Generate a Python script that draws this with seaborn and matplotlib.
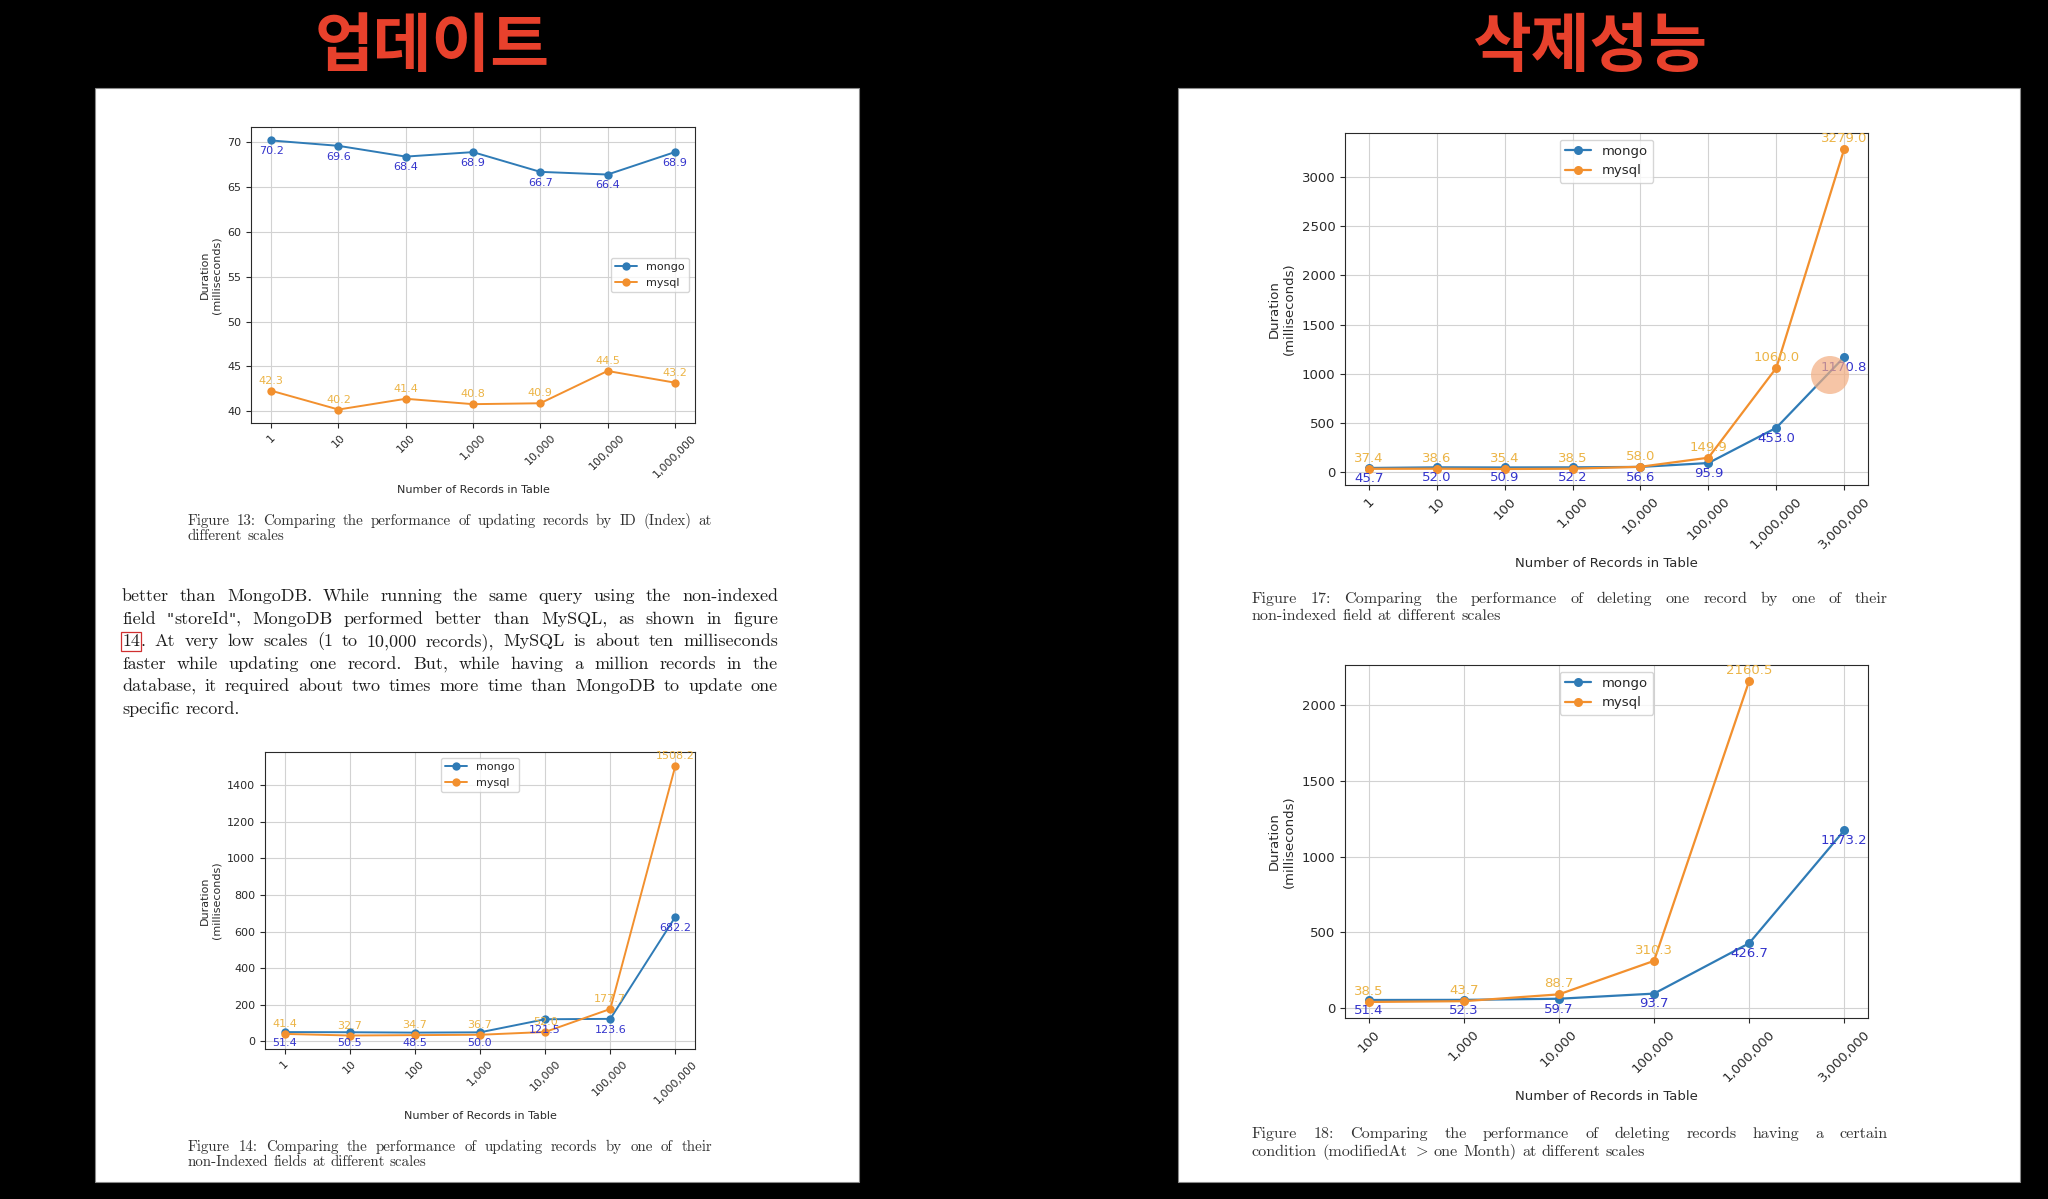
import matplotlib
matplotlib.use("Agg")
import matplotlib.pyplot as plt
import seaborn as sns
from matplotlib.patches import Rectangle, Ellipse

# ---------------- data ----------------
records_upd = ["1", "10", "100", "1,000", "10,000", "100,000", "1,000,000"]
upd_idx_mongo = [70.2, 69.6, 68.4, 68.9, 66.7, 66.4, 68.9]
upd_idx_mysql = [42.3, 40.2, 41.4, 40.8, 40.9, 44.5, 43.2]

upd_nonidx_mongo = [51.4, 50.5, 48.5, 50.0, 121.5, 123.6, 682.2]
upd_nonidx_mysql = [41.4, 32.7, 34.7, 36.7, 52.0, 177.7, 1508.2]

records_del1 = ["1", "10", "100", "1,000", "10,000", "100,000", "1,000,000", "3,000,000"]
del1_mongo = [45.7, 52.0, 50.9, 52.2, 56.6, 95.9, 453.0, 1170.8]
del1_mysql = [37.4, 38.6, 35.4, 38.5, 58.0, 149.9, 1060.0, 3279.0]

records_del2 = ["100", "1,000", "10,000", "100,000", "1,000,000", "3,000,000"]
del2_mongo = [51.4, 52.3, 59.7, 93.7, 426.7, 1173.2]
del2_mysql = [38.5, 43.7, 88.7, 310.3, 2160.5]

series_names = ["mongo", "mysql"]
title_left = "업데이트"
title_right = "삭제성능"
xlabel = "Number of Records in Table"
ylabel = "Duration\n(milliseconds)"

paragraph = [
    "better than MongoDB. While running the same query using the non-indexed",
    'field "storeId", MongoDB performed better than MySQL, as shown in figure',
    "14. At very low scales (1 to 10,000 records), MySQL is about ten milliseconds",
    "faster while updating one record. But, while having a million records in the",
    "database, it required about two times more time than MongoDB to update one",
    "specific record.",
]
cap13 = ["Figure 13: Comparing the performance of updating records by ID (Index) at",
         "different scales"]
cap14 = ["Figure 14: Comparing the performance of updating records by one of their",
         "non-Indexed fields at different scales"]
cap17 = ["Figure 17: Comparing the performance of deleting one record by one of their",
         "non-indexed field at different scales"]
cap18 = ["Figure 18: Comparing the performance of deleting records having a certain",
         "condition (modifiedAt $>$ one Month) at different scales"]

# ---------------- style ----------------
sns.set_style("whitegrid", rc={
    "axes.edgecolor": "#2a2a2a",
    "axes.linewidth": 1.0,
    "grid.color": "#d2d2d2",
    "grid.linewidth": 1.0,
    "xtick.bottom": True,
    "ytick.left": True,
    "xtick.color": "#2a2a2a",
    "ytick.color": "#2a2a2a",
    "axes.labelcolor": "#2a2a2a",
})
plt.rcParams["font.family"] = ["DejaVu Sans"]
plt.rcParams["mathtext.fontset"] = "cm"

BLUE = "#2f7bb6"
ORANGE = "#f2902e"
BLUE_TXT = "#3434cc"
ORANGE_TXT = "#ecb446"

W, H = 2048, 1199
fig = plt.figure(figsize=(W / 100, H / 100), dpi=100, facecolor="black")


def rect(x0, y0, x1, y1):
    return [x0 / W, 1 - y1 / H, (x1 - x0) / W, (y1 - y0) / H]


# pages
for (x0, y0, x1, y1) in [(95, 88, 859, 1182), (1178, 88, 2020, 1182)]:
    fig.add_artist(Rectangle((x0 / W, 1 - y1 / H), (x1 - x0) / W, (y1 - y0) / H,
                             transform=fig.transFigure, facecolor="white",
                             edgecolor="#8a8a8a", lw=0.8, zorder=-5))

# titles
fig.text(432 / W, 1 - 47 / H, title_left, ha="center", va="center", fontsize=46,
         fontweight="black", color="#e8412c", family=["Noto Sans CJK KR"])
fig.text(1590 / W, 1 - 47 / H, title_right, ha="center", va="center", fontsize=46,
         fontweight="black", color="#e8412c", family=["Noto Sans CJK KR"])


def draw(ax, cats, mongo, mysql, fs, leg_loc, leg_fs, ms, lw):
    sns.lineplot(x=cats[:len(mongo)], y=mongo, ax=ax, color=BLUE, marker="o",
                 markersize=ms, markeredgewidth=0, lw=lw, sort=False, label=series_names[0])
    sns.lineplot(x=cats[:len(mysql)], y=mysql, ax=ax, color=ORANGE, marker="o",
                 markersize=ms, markeredgewidth=0, lw=lw, sort=False, label=series_names[1])
    for i, v in enumerate(mongo):
        ax.annotate(f"{v:.1f}", (i, v), textcoords="offset points", xytext=(0, -10),
                    ha="center", color=BLUE_TXT, fontsize=fs)
    for i, v in enumerate(mysql):
        ax.annotate(f"{v:.1f}", (i, v), textcoords="offset points", xytext=(0, 5),
                    ha="center", color=ORANGE_TXT, fontsize=fs)
    ax.tick_params(axis="x", rotation=45, labelsize=fs, length=3.5, width=0.8)
    ax.tick_params(axis="y", labelsize=fs, length=3.5, width=0.8)
    ax.set_xlabel(xlabel, fontsize=fs)
    ax.set_ylabel(ylabel, fontsize=fs)
    ax.legend(loc=leg_loc, fontsize=leg_fs, frameon=True)
    for s in ax.spines.values():
        s.set_visible(True)
        s.set_color("#2a2a2a")


ax1 = fig.add_axes(rect(251, 127, 695, 423))
draw(ax1, records_upd, upd_idx_mongo, upd_idx_mysql, 8, "center right", 8, 6, 1.4)
ax2 = fig.add_axes(rect(265, 752, 695, 1049))
draw(ax2, records_upd, upd_nonidx_mongo, upd_nonidx_mysql, 8, "upper center", 8, 6, 1.4)
ax3 = fig.add_axes(rect(1345, 133, 1868, 485))
draw(ax3, records_del1, del1_mongo, del1_mysql, 9.5, "upper center", 9.5, 6.5, 1.6)
ax4 = fig.add_axes(rect(1345, 665, 1868, 1018))
draw(ax4, records_del2, del2_mongo, del2_mysql, 9.5, "upper center", 9.5, 6.5, 1.6)

# cursor highlight (screen recording artefact)
fig.add_artist(Ellipse((1830 / W, 1 - 375 / H), 38 / W, 38 / H, transform=fig.transFigure,
                       facecolor="#f3ad80", alpha=0.7, edgecolor="none", zorder=5))

# ---------------- justified text ----------------
renderer = fig.canvas.get_renderer()
SERIF = ["cmr10", "DejaVu Serif"]
QUOTE_FONT = ["DejaVu Serif"]


def segments(word):
    """Split a word into (text, family, boxed) pieces."""
    if word == "14.":
        return [("14", SERIF, True), (".", SERIF, False)]
    if '"' in word:
        out, buf = [], ""
        for ch in word:
            if ch == '"':
                if buf:
                    out.append((buf, SERIF, False))
                    buf = ""
                out.append(('"', QUOTE_FONT, False))
            else:
                buf += ch
        if buf:
            out.append((buf, SERIF, False))
        return out
    return [(word, SERIF, False)]


def place_line(text, x0, x1, ybase, justify, size, color):
    words = text.split()
    groups, widths = [], []
    for w in words:
        parts = []
        tot = 0
        for seg, fam, boxed in segments(w):
            kw = dict(va="baseline", ha="left", fontsize=size, color=color, family=fam)
            if boxed:
                kw["bbox"] = dict(boxstyle="square,pad=0.08", fc="none", ec="#d03030", lw=0.9)
            t = fig.text(0, 1 - ybase / H, seg, **kw)
            if fam is QUOTE_FONT:
                t.set_fontsize(size * 0.85)
            wd = t.get_window_extent(renderer).width
            parts.append((t, tot))
            tot += wd + (1 if boxed else 0)
        groups.append(parts)
        widths.append(tot)
    natural = size * 1.389 * 0.333
    if justify and len(words) > 1:
        gap = (x1 - x0 - sum(widths)) / (len(words) - 1)
    else:
        gap = natural
    x = x0
    for parts, wd in zip(groups, widths):
        for t, off in parts:
            t.set_x((x + off) / W)
        x += wd + gap


def place_block(lines, x0, x1, y_first, spacing, size, color):
    for k, line in enumerate(lines):
        place_line(line, x0, x1, y_first + k * spacing, k < len(lines) - 1, size, color)


place_block(cap13, 188, 712, 525, 14.5, 10.8, "#333333")
place_block(paragraph, 122, 778, 601, 22.6, 13, "#1e1e1e")
place_block(cap14, 188, 712, 1151, 15.5, 10.8, "#333333")
place_block(cap17, 1252, 1888, 603, 17, 11.6, "#333333")
place_block(cap18, 1252, 1888, 1138, 17.5, 11.6, "#333333")

fig.savefig("out.png", dpi=100, facecolor="black")
